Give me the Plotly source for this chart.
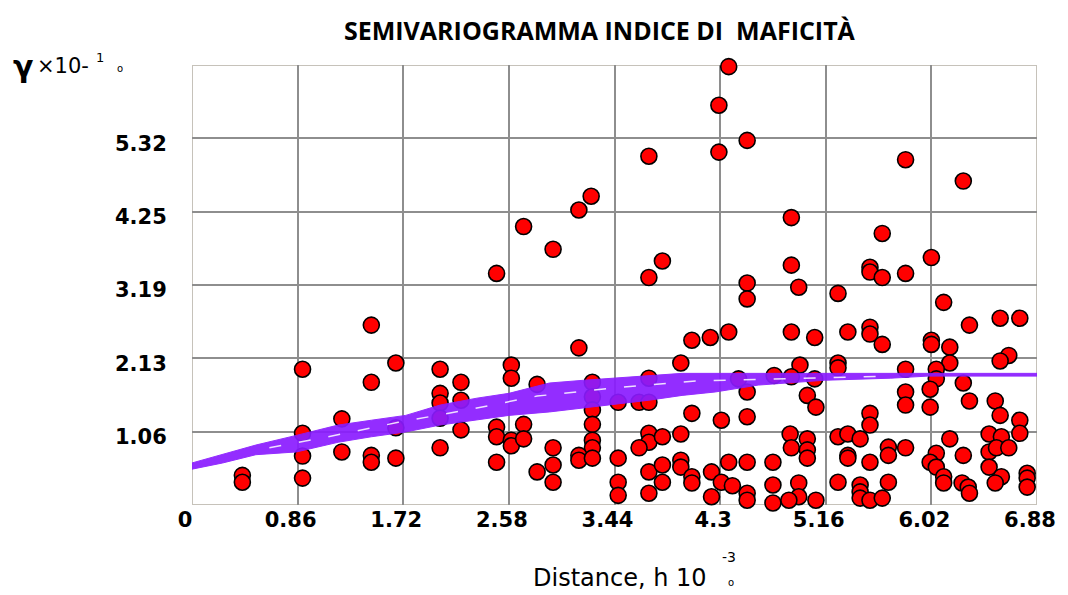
import plotly.graph_objects as go

# ---- chart text -------------------------------------------------------------
title_text = "SEMIVARIOGRAMMA INDICE DI  MAFICITÀ"
x_title = "Distance, h 10"
x_title_exp = "-3"
y_title_symbol = "γ"
y_title_scale = "×10-"
y_title_exp = "1"

x_tick_values = [0, 0.86, 1.72, 2.58, 3.44, 4.3, 5.16, 6.02, 6.88]
x_tick_labels = ["0", "0.86", "1.72", "2.58", "3.44", "4.3", "5.16", "6.02", "6.88"]
y_tick_values = [1.064, 2.128, 3.192, 4.256, 5.32]
y_tick_labels = ["1.06", "2.13", "3.19", "4.25", "5.32"]

# ---- experimental semivariogram cloud (lag distance h, gamma) ---------------
lag_h = [
    4.37, 4.29, 4.52, 4.29, 3.72, 5.81, 6.28, 3.25, 3.15, 2.70,
    2.94, 2.48, 4.88, 5.62, 6.02, 3.83, 3.72, 4.88, 5.52, 5.52,
    5.62, 5.81, 4.52, 4.52, 4.94, 5.26, 6.12, 6.33, 6.58, 6.74,
    4.07, 4.22, 4.37, 4.88, 5.07, 5.34, 5.52, 5.52, 5.62, 6.02,
    6.02, 6.17, 6.65, 6.58, 1.46, 3.15, 0.90, 1.66, 1.46, 2.02,
    2.19, 2.02, 2.02, 2.19, 2.60, 2.60, 2.81, 1.22, 0.90, 1.66,
    2.02, 2.19, 2.48, 2.48, 2.70, 2.60, 2.60, 2.70, 0.90, 1.22,
    1.46, 1.46, 1.66, 2.02, 2.48, 0.90, 0.41, 0.41, 2.81, 3.26,
    3.98, 3.72, 3.26, 3.26, 3.47, 3.64, 3.72, 3.26, 4.07, 4.31,
    3.72, 3.72, 3.83, 3.64, 3.98, 3.26, 3.26, 2.94, 3.15, 3.15,
    3.26, 2.94, 2.94, 3.47, 3.47, 3.47, 3.72, 3.83, 3.83, 3.72,
    3.98, 3.98, 4.07, 4.07, 4.23, 4.31, 4.37, 4.23, 4.40, 5.26,
    5.26, 4.95, 4.45, 4.74, 4.88, 5.07, 4.52, 5.01, 5.08, 4.52,
    5.52, 5.52, 4.87, 5.01, 5.26, 5.34, 5.44, 4.88, 5.01, 5.01,
    5.34, 5.34, 5.52, 5.67, 5.67, 4.52, 4.73, 4.52, 4.52, 4.73,
    4.73, 4.94, 4.94, 4.86, 5.08, 5.26, 5.44, 5.44, 5.44, 5.52,
    5.62, 5.67, 5.81, 6.17, 6.06, 6.06, 6.28, 6.01, 5.81, 5.81,
    6.01, 6.33, 6.54, 6.58, 6.74, 6.74, 6.17, 6.49, 6.59, 5.81,
    6.06, 6.01, 6.06, 6.28, 6.49, 6.55, 6.65, 6.49, 6.59, 6.54,
    6.12, 6.12, 6.27, 6.32, 6.33, 6.80, 6.80, 6.80, 5.81, 6.12,
]
gamma = [
    6.36, 5.80, 5.29, 5.12, 5.06, 5.01, 4.70, 4.48, 4.28, 4.04,
    3.71, 3.36, 4.17, 3.94, 3.59, 3.54, 3.30, 3.48, 3.45, 3.38,
    3.30, 3.36, 3.22, 2.99, 3.16, 3.07, 2.94, 2.61, 2.71, 2.71,
    2.39, 2.43, 2.51, 2.51, 2.43, 2.51, 2.58, 2.48, 2.33, 2.39,
    2.33, 2.29, 2.17, 2.09, 2.61, 2.28, 1.97, 2.06, 1.78, 1.97,
    1.78, 1.62, 1.48, 1.52, 2.03, 1.84, 1.75, 1.25, 1.04, 1.12,
    1.26, 1.09, 1.13, 0.99, 1.17, 0.94, 0.86, 0.96, 0.71, 0.77,
    0.72, 0.62, 0.68, 0.83, 0.62, 0.39, 0.43, 0.33, 0.48, 1.78,
    2.06, 1.84, 1.57, 1.38, 1.49, 1.49, 1.49, 1.17, 1.33, 1.23,
    1.04, 0.91, 0.99, 0.83, 1.03, 0.94, 0.83, 0.83, 0.72, 0.65,
    0.68, 0.58, 0.33, 0.68, 0.33, 0.14, 0.48, 0.58, 0.33, 0.17,
    0.65, 0.55, 0.41, 0.32, 0.48, 0.33, 0.62, 0.12, 0.28, 2.06,
    1.99, 2.03, 1.83, 1.88, 1.86, 1.83, 1.64, 1.59, 1.42, 1.28,
    1.33, 1.16, 1.03, 0.96, 0.99, 1.03, 0.96, 0.83, 0.80, 0.68,
    0.72, 0.68, 0.62, 0.84, 0.72, 0.62, 0.62, 0.17, 0.07, 0.29,
    0.03, 0.32, 0.12, 0.07, 0.07, 0.33, 0.29, 0.19, 0.10, 0.07,
    0.10, 0.33, 1.97, 2.06, 1.97, 1.83, 1.77, 1.68, 1.64, 1.45,
    1.42, 1.51, 1.51, 1.30, 1.23, 1.04, 0.96, 1.03, 0.99, 0.83,
    0.75, 0.62, 0.55, 0.72, 0.77, 0.83, 0.83, 0.55, 0.41, 0.32,
    0.41, 0.32, 0.32, 0.26, 0.17, 0.46, 0.39, 0.26, -0.01, -0.01,
]

# ---- fitted model envelope (band of model curves) ---------------------------
model_upper_h = [0.00, 0.25, 0.52, 0.85, 1.19, 1.46, 1.74, 2.02, 2.32, 2.58,
                 2.91, 3.19, 3.45, 3.72, 3.99, 6.88]
model_upper_g = [0.61, 0.73, 0.87, 1.01, 1.16, 1.23, 1.30, 1.45, 1.55, 1.62,
                 1.77, 1.81, 1.84, 1.88, 1.91, 1.91]
model_lower_h = [0.00, 0.25, 0.52, 0.85, 1.19, 1.46, 1.74, 2.02, 2.32, 2.58,
                 2.91, 3.19, 3.45, 3.72, 3.99, 4.26, 4.61, 4.88, 5.15, 5.69,
                 5.99, 6.88]
model_lower_g = [0.52, 0.61, 0.73, 0.77, 0.91, 0.99, 1.06, 1.16, 1.23, 1.30,
                 1.35, 1.41, 1.46, 1.52, 1.59, 1.64, 1.74, 1.77, 1.81, 1.84,
                 1.87, 1.87]
# light gap running between the overlapping model curves
model_gap_h = [0.63, 1.11, 1.68, 2.24, 2.81, 3.45, 4.10, 4.90, 5.71]
model_gap_g = [0.83, 0.99, 1.20, 1.38, 1.58, 1.70, 1.80, 1.84, 1.87]

X_MAX = 6.88
Y_MAX = 6.384
GRID = "#8e8e8e"
FRAME = "#c6c2ba"
PURPLE = "#8a1cff"
TICK_FONT = dict(family="DejaVu Sans", size=21, color="#000000", weight="bold")

fig = go.Figure()

fig.add_trace(go.Scatter(
    x=lag_h, y=gamma, mode="markers",
    marker=dict(size=16, color="#ff0000", line=dict(color="#000000", width=1.6)),
    cliponaxis=False, hoverinfo="x+y", showlegend=False,
))

band_h = model_upper_h + model_lower_h[::-1]
band_g = model_upper_g + model_lower_g[::-1]
fig.add_trace(go.Scatter(
    x=band_h, y=band_g, mode="lines", fill="toself",
    fillcolor=PURPLE, line=dict(color=PURPLE, width=1),
    opacity=0.92, hoverinfo="skip", showlegend=False,
))
fig.add_trace(go.Scatter(
    x=model_gap_h, y=model_gap_g, mode="lines",
    line=dict(color="rgba(255,255,255,0.85)", width=1.5, dash="12px,18px"),
    hoverinfo="skip", showlegend=False,
))

fig.update_xaxes(
    range=[0, X_MAX], tickmode="array", tickvals=x_tick_values, ticktext=x_tick_labels,
    showgrid=True, gridcolor=GRID, gridwidth=2, zeroline=False, showline=False,
    ticks="", ticklabelshift=-7, tickfont=TICK_FONT, fixedrange=True,
)
fig.update_yaxes(
    range=[0, Y_MAX], tickmode="array", tickvals=y_tick_values, ticktext=y_tick_labels,
    showgrid=True, gridcolor=GRID, gridwidth=2, zeroline=False, showline=False,
    ticks="outside", ticklen=20, tickcolor="rgba(0,0,0,0)", ticklabelshift=5,
    tickfont=TICK_FONT, fixedrange=True,
)

# plot frame
fig.add_shape(type="rect", xref="x", yref="y", x0=0, x1=X_MAX, y0=0, y1=Y_MAX,
              line=dict(color=FRAME, width=2), layer="below")

# title
fig.add_annotation(
    text="<b>" + title_text + "</b>", xref="paper", yref="paper",
    x=0.483, y=1.0, yshift=35, xanchor="center", yanchor="middle", showarrow=False,
    font=dict(family="Open Sans", size=25, color="#000000"),
)

# y-axis caption: gamma x 10^-1
fig.add_annotation(
    text="<b>" + y_title_symbol + "</b>", xref="paper", yref="paper", x=0, y=1.0,
    xshift=-181, yshift=-1, xanchor="left", yanchor="middle", showarrow=False,
    font=dict(family="DejaVu Sans", size=30, color="#000000"),
)
fig.add_annotation(
    text=y_title_scale, xref="paper", yref="paper", x=0, y=1.0,
    xshift=-157, yshift=-1, xanchor="left", yanchor="middle", showarrow=False,
    font=dict(family="DejaVu Sans", size=21, color="#000000"),
)
fig.add_annotation(
    text=y_title_exp, xref="paper", yref="paper", x=0, y=1.0,
    xshift=-98, yshift=8, xanchor="left", yanchor="middle", showarrow=False,
    font=dict(family="DejaVu Sans", size=13, color="#000000"),
)
fig.add_annotation(
    text="o", xref="paper", yref="paper", x=0, y=1.0,
    xshift=-77, yshift=-3, xanchor="left", yanchor="middle", showarrow=False,
    font=dict(family="DejaVu Sans", size=10, color="#000000"),
)

# x-axis caption: distance h x 10^-3
fig.add_annotation(
    text=x_title, xref="paper", yref="paper", x=0, y=0,
    xshift=339, yshift=-73, xanchor="left", yanchor="middle", showarrow=False,
    font=dict(family="DejaVu Sans", size=24, color="#000000"),
)
fig.add_annotation(
    text=x_title_exp, xref="paper", yref="paper", x=0, y=0,
    xshift=528, yshift=-52, xanchor="left", yanchor="middle", showarrow=False,
    font=dict(family="DejaVu Sans", size=14, color="#000000"),
)
fig.add_annotation(
    text="o", xref="paper", yref="paper", x=0, y=0,
    xshift=534, yshift=-77, xanchor="left", yanchor="middle", showarrow=False,
    font=dict(family="DejaVu Sans", size=10, color="#000000"),
)

fig.update_layout(
    width=1068, height=595,
    margin=dict(l=192, r=23, t=65, b=90),
    paper_bgcolor="#ffffff", plot_bgcolor="#ffffff",
    showlegend=False,
)

fig.write_html("out.html")
